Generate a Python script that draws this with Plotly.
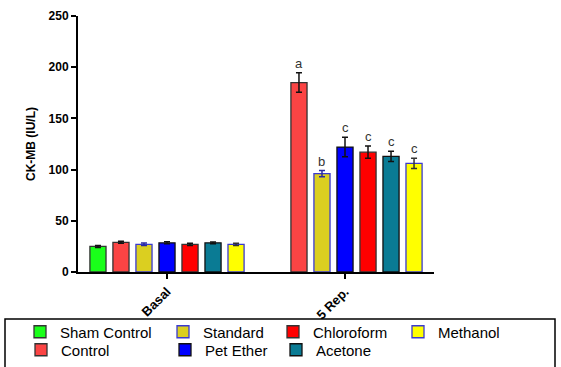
import plotly.graph_objects as go

# Data
groups = ["Basal", "5 Rep."]
treatments = ["Sham Control", "Control", "Standard", "Pet Ether", "Chloroform", "Acetone", "Methanol"]
sham_control = [25, None]
control = [29, 185]
standard = [27, 96]
pet_ether = [28.5, 122]
chloroform = [27, 117]
acetone = [28.5, 113]
methanol = [27, 106]
sham_control_err = [1, 0]
control_err = [1, 9.5]
standard_err = [1.2, 3]
pet_ether_err = [1, 9.5]
chloroform_err = [1, 6]
acetone_err = [0.8, 5]
methanol_err = [1, 5]
letters_5rep = ["", "a", "b", "c", "c", "c", "c"]

values = [sham_control, control, standard, pet_ether, chloroform, acetone, methanol]
errors = [sham_control_err, control_err, standard_err, pet_ether_err, chloroform_err, acetone_err, methanol_err]

fills = ["#1aff1a", "#fb4444", "#dbcf20", "#0000ff", "#ff0000", "#0a7b94", "#ffff00"]
edges = ["#333333", "#333333", "#3a3ad0", "#111111", "#333333", "#111111", "#3a3ad0"]
err_cols = ["#111111", "#111111", "#2a2aa0", "#111111", "#111111", "#111111", "#333333"]

# one legend box per entry: (left pixel of text, row centre pixel)
legend_slots = [(60, 332), (61, 350), (203, 332), (205, 350), (313, 332), (316, 350), (438, 332)]
legend_ids = ["legend"] + [f"legend{i}" for i in range(2, len(treatments) + 1)]

FONT = "Arial, Liberation Sans, sans-serif"
BARGAP = 0.095
PL, PR, PT, PB = 78, 434, 16, 272  # plot area in pixels


def px_x(p):
    return (p - PL) / (PR - PL)


def px_y(p):
    return (PB - p) / (PB - PT)


fig = go.Figure()
for name, v, e, fc, ec, erc, lg in zip(treatments, values, errors, fills, edges, err_cols, legend_ids):
    fig.add_trace(go.Bar(
        x=groups, y=v, name=name, showlegend=True,
        marker=dict(color=fc, line=dict(color=ec, width=1.3)),
        error_y=dict(type="data", array=e, color=erc, thickness=1.5, width=3),
        legend=lg,
    ))

# significance letters above the 5 Rep. bars
n = len(treatments)
slot = (1 - BARGAP) / n
for i, (lab, v, e) in enumerate(zip(letters_5rep, values, errors)):
    if not lab:
        continue
    fig.add_annotation(
        x=1 + (i - (n - 1) / 2) * slot, y=v[1] + e[1],
        text=lab, showarrow=False, yanchor="bottom", yshift=0,
        font=dict(family=FONT, size=13, color="#333333"),
    )

# frame around the legend
fig.add_shape(type="rect", xref="paper", yref="paper",
              x0=px_x(5), x1=px_x(555), y0=px_y(319), y1=px_y(400),
              line=dict(color="black", width=1.5), fillcolor="rgba(0,0,0,0)")

legends = {}
for lg, (tx, cy) in zip(legend_ids, legend_slots):
    legends[lg] = dict(orientation="v", yanchor="middle", xanchor="left",
                       x=px_x(tx - 40), y=px_y(cy),
                       bgcolor="rgba(0,0,0,0)", borderwidth=0,
                       font=dict(family=FONT, size=15, color="black"),
                       itemclick=False)

fig.update_layout(
    width=561, height=367, showlegend=True,
    margin=dict(l=PL, r=561 - PR, t=PT, b=367 - PB, autoexpand=False),
    paper_bgcolor="white", plot_bgcolor="white",
    barmode="group", bargap=BARGAP, bargroupgap=0.3,
    font=dict(family=FONT, color="black"),
    xaxis=dict(type="category", range=[-0.5, 1.5], showline=True, linecolor="black", linewidth=2,
               ticks="outside", ticklen=5, tickwidth=2, tickcolor="black", tickangle=-45,
               automargin=False,
               tickfont=dict(family=FONT, size=13, color="black", weight="bold"), showgrid=False),
    yaxis=dict(range=[0, 250], tickvals=[0, 50, 100, 150, 200, 250], showline=True,
               linecolor="black", linewidth=2, ticks="outside", ticklen=5, tickwidth=2,
               tickcolor="black", showgrid=False, zeroline=False, automargin=False,
               tickfont=dict(family=FONT, size=12, color="black", weight="bold"),
               title=dict(text="CK-MB (IU/L)", standoff=10,
                          font=dict(family=FONT, size=12, color="black", weight="bold"))),
    **legends,
)

fig.write_html("out.html")
